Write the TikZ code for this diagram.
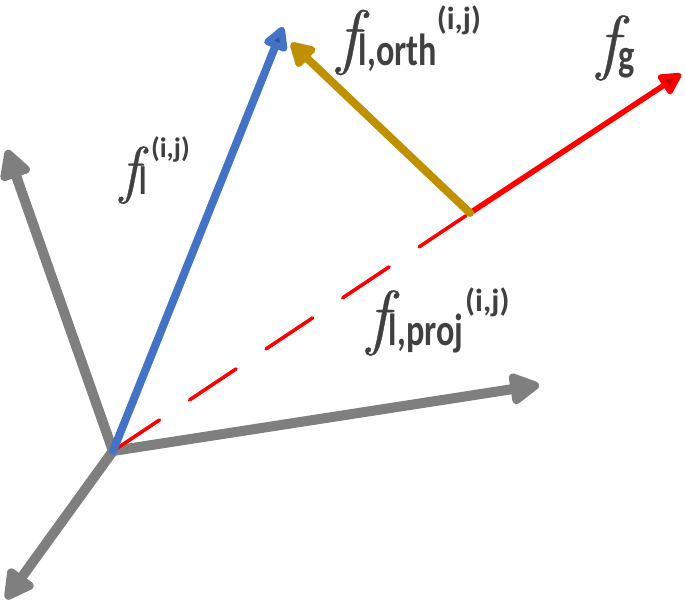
\documentclass[tikz,border=0pt]{standalone}
\usepackage{fontspec}
\usepackage{graphicx}
\newfontfamily\labfont{Carlito}
\newfontfamily\ffam[ItalicFeatures={FakeBold=0.5}]{Latin Modern Roman}
\usetikzlibrary{arrows.meta}
\definecolor{axgray}{HTML}{7F7F7F}
\definecolor{vblue}{HTML}{4472C4}
\definecolor{vbluedark}{HTML}{2F5597}
\definecolor{vgold}{HTML}{BF9000}
\definecolor{vred}{HTML}{FF0000}
\definecolor{vreddark}{HTML}{C00000}
\definecolor{labtext}{HTML}{404040}
\newcommand{\mylab}[4]{\scalebox{#1}{{\ffam\itshape\fontsize{72}{74}\selectfont f}\raisebox{-4.5pt}{\labfont\bfseries\scalebox{0.76}[1]{\fontsize{45}{48}\selectfont #2}}\raisebox{#4}{\labfont\bfseries\fontsize{32}{36}\selectfont #3}}}
\begin{document}
\begin{tikzpicture}[x=1pt,y=-1pt,
  axis/.style={draw=axgray,line width=10pt,line cap=round,line join=round,
    -{Triangle[length=34pt,width=34pt,round]}},
  bluevec/.style={draw=vblue,line width=8pt,line cap=round,
    -{Triangle[length=27pt,width=27pt,round,fill=vbluedark]}},
  goldvec/.style={draw=vgold,line width=8pt,line cap=round,
    -{Triangle[length=27pt,width=29pt,round]}},
  redvec/.style={draw=vred,line width=5.5pt,line cap=round,
    -{Triangle[length=25pt,width=25pt,round,fill=vreddark]}},
  reddash/.style={draw=vred,line width=3.5pt,line cap=round,dash pattern=on 56pt off 36pt},
  lab/.style={inner sep=0pt,anchor=base west,text=labtext}]
\useasboundingbox (0,0) rectangle (685,606);
\coordinate (O) at (113,451);
\coordinate (A1) at (7,150);
\coordinate (A2) at (6,599);
\coordinate (A3) at (539,385);
\coordinate (B) at (283,27);
\coordinate (P) at (470,213);
\coordinate (Q) at (291,43);
\coordinate (G) at (681,74);
\draw[axis] (O) -- (A1);
\draw[axis] (O) -- (A2);
\draw[axis] (O) -- (A3);
\draw[reddash] (O) -- (P);
\draw[redvec] (P) -- (G);
\draw[bluevec] (O) -- (B);
\draw[goldvec] (P) -- (Q);
\node[lab] (lfl) at (120,191) {\mylab{0.88}{l}{\kern5pt(i,j)}{38pt}};
\node[lab] (lorth) at (337,60.5) {\mylab{1}{l,orth}{(i,j)}{31.5pt}};
\node[lab] (lproj) at (367,341) {\mylab{1}{l,proj}{\kern2pt(i,j)}{30pt}};
\node[lab] (lg) at (597,66) {\mylab{1}{g}{}{0pt}};
\end{tikzpicture}
\end{document}
